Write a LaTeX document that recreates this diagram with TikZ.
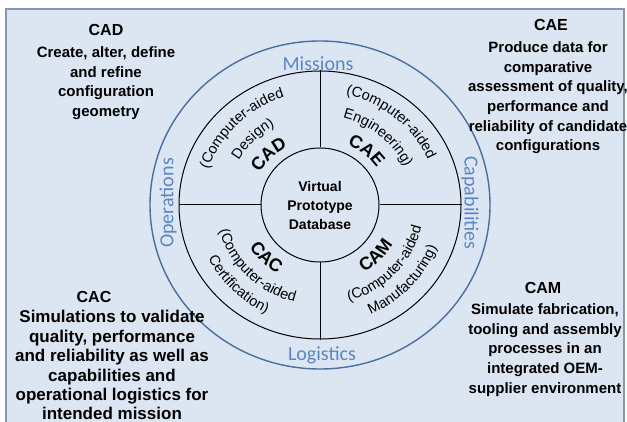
\documentclass[tikz,border=0pt]{standalone}
\usepackage{fontspec}
\setmainfont{Liberation Sans}
\newfontfamily\ringfont{Carlito}
\usetikzlibrary{positioning,shapes.geometric,decorations.text,calc}

\definecolor{panelfill}{HTML}{DCE6F2}
\definecolor{panelline}{HTML}{8496B0}
\definecolor{ringblue}{HTML}{4A6E9E}
\definecolor{labelblue}{HTML}{5B86C2}

% text bent along an arc round the hub: start angle, end angle, radius, text
\newcommand{\ringtext}[4]{%
  \pgfmathsetmacro{\ringrx}{1.04*#3}%
  \path[decorate, decoration={text along path, text align=center, text={#4}}]
    ($(hub)+(#1:\ringrx pt and #3pt)$)
    arc[start angle=#1, end angle=#2, x radius=\ringrx pt, y radius=#3pt];}

\begin{document}
\begin{tikzpicture}[x=1pt,y=1pt]
\tikzset{
  heading/.style={font=\fontsize{16}{19}\selectfont\bfseries, inner sep=0pt, anchor=base},
  blurb/.style={font=\fontsize{15}{19.7}\selectfont\bfseries, align=center, inner sep=0pt},
  ring/.style={draw, ellipse, inner sep=0pt},
  ringlabel/.style={font=\ringfont\fontsize{20}{24}\selectfont, text=labelblue, inner sep=0pt}
}
\useasboundingbox (0,0) rectangle (627,421);
\clip (0,0) rectangle (627,421);
\draw[panelline, fill=panelfill, line width=1.3pt] (6,-10) rectangle (624,412);

% rings
\node[ring, draw=ringblue, line width=1.4pt, minimum width=340pt, minimum height=328pt] (outer) at (320,216) {};
\node[ring, line width=1pt, minimum width=282pt, minimum height=268pt] (middle) at (320,216) {};
\node[ring, line width=1pt, minimum width=118pt, minimum height=114pt,
  font=\fontsize{14}{19}\selectfont\bfseries, align=center] (hub) at (320,216) {Virtual\\Prototype\\Database};

% spokes
\draw[line width=1pt] (hub.north) -- (middle.north);
\draw[line width=1pt] (hub.south) -- (middle.south);
\draw[line width=1pt] (hub.west) -- (middle.west);
\draw[line width=1pt] (hub.east) -- (middle.east);

% outer ring labels
\node[ringlabel] (missions) at (318,357) {Missions};
\node[ringlabel] (logistics) at (322,66) {Logistics};
\node[ringlabel, rotate=90] (operations) at (168,218) {Operations};
\node[ringlabel, rotate=-90] (capabilities) at (470,218) {Capabilities};

% segments
\ringtext{180}{90}{113}{|\fontsize{14.5}{17}\selectfont|(Computer-aided}
\ringtext{180}{90}{90}{|\fontsize{14.5}{17}\selectfont|Design)}
\ringtext{180}{90}{66}{|\fontsize{18}{20}\selectfont\bfseries|CAD}
\ringtext{95}{5}{113}{|\fontsize{14.5}{17}\selectfont|(Computer-aided}
\ringtext{95}{5}{90}{|\fontsize{14.5}{17}\selectfont|Engineering)}
\ringtext{95}{5}{66}{|\fontsize{18}{20}\selectfont\bfseries|CAE}
\ringtext{180}{270}{80}{|\fontsize{18}{20}\selectfont\bfseries|CAC}
\ringtext{180}{270}{100}{|\fontsize{14.5}{17}\selectfont|(Computer-aided}
\ringtext{180}{270}{120}{|\fontsize{14.5}{17}\selectfont|Certification)}
\ringtext{272}{362}{80}{|\fontsize{18}{20}\selectfont\bfseries|CAM}
\ringtext{272}{362}{100}{|\fontsize{14.5}{17}\selectfont|(Computer-aided}
\ringtext{272}{362}{120}{|\fontsize{14.5}{17}\selectfont|Manufacturing)}

% corner notes
\node[heading] (cadhead) at (106,385) {CAD};
\node[blurb, below=10pt of cadhead] (cadtext) {Create, alter, define\\and refine\\configuration\\geometry};
\node[heading] (caehead) at (551,390) {CAE};
\node[blurb, below=10pt of caehead, xshift=-3pt] (caetext) {Produce data for\\comparative\\assessment of quality,\\performance and\\reliability of candidate\\configurations};
\node[heading] (cachead) at (94,119) {CAC};
\node[blurb, font=\fontsize{17}{19.4}\selectfont\bfseries, below=8pt of cachead, xshift=18pt] (cactext) {Simulations to validate\\quality, performance\\and reliability as well as\\capabilities and\\operational logistics for\\intended mission};
\node[heading] (camhead) at (543,128) {CAM};
\node[blurb, below=10pt of camhead, xshift=2pt] (camtext) {Simulate fabrication,\\tooling and assembly\\processes in an\\integrated OEM-\\supplier environment};
\end{tikzpicture}
\end{document}
